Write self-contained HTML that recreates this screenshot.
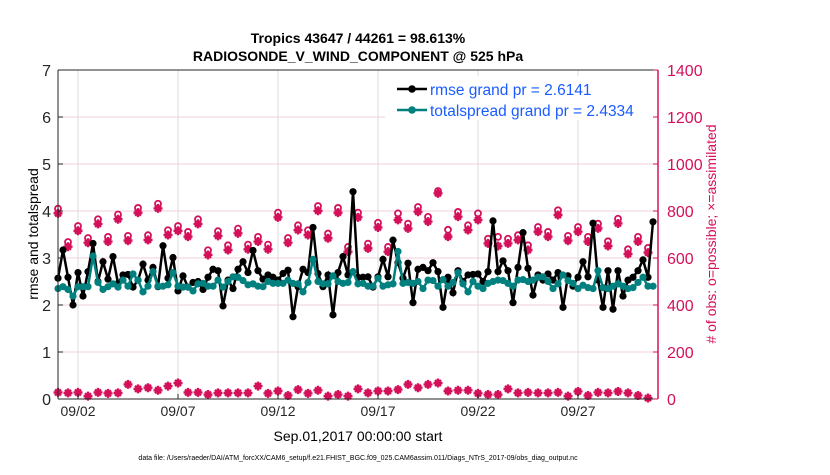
<!DOCTYPE html>
<html><head><meta charset="utf-8"><style>
body{margin:0;background:#fff;}
svg text{font-family:"Liberation Sans",Arial,sans-serif;}
</style></head><body>
<svg id="chart" width="830" height="470" viewBox="0 0 830 470" xmlns="http://www.w3.org/2000/svg">
<rect x="0" y="0" width="830" height="470" fill="#fff"/>
<text x="358" y="43" text-anchor="middle" font-size="14" font-weight="bold">Tropics 43647 / 44261 = 98.613%</text>
<text x="358" y="61" text-anchor="middle" font-size="14" font-weight="bold">RADIOSONDE_V_WIND_COMPONENT @ 525 hPa</text>
<g id="grid"></g>
<g id="obs"></g>
<g id="lines"></g>
<g id="axes"></g>
<g id="legend">
<rect x="385" y="76" width="268" height="44" fill="#fff"/>
<line x1="397" y1="89" x2="427" y2="89" stroke="#000" stroke-width="2.5"/>
<circle cx="412" cy="89" r="3.8" fill="#000"/>
<text x="430" y="95" font-size="15.5" fill="#1a5cff">rmse grand pr = 2.6141</text>
<line x1="397" y1="110" x2="427" y2="110" stroke="#00807f" stroke-width="2.5"/>
<circle cx="412" cy="110" r="3.8" fill="#00807f"/>
<text x="430" y="116" font-size="15.5" fill="#1a5cff">totalspread grand pr = 2.4334</text>
</g>
<text transform="translate(38,234) rotate(-90)" text-anchor="middle" font-size="14">rmse and totalspread</text>
<text transform="translate(716,234) rotate(-90)" text-anchor="middle" font-size="14" fill="#d5105a"># of obs: o=possible; ×=assimilated</text>
<text x="358" y="441" text-anchor="middle" font-size="14">Sep.01,2017 00:00:00 start</text>
<text x="358" y="460" text-anchor="middle" font-size="7">data file: /Users/raeder/DAI/ATM_forcXX/CAM6_setup/f.e21.FHIST_BGC.f09_025.CAM6assim.011/Diags_NTrS_2017-09/obs_diag_output.nc</text>
</svg>
<script>
const rmse=[2.57,3.17,2.59,2.00,2.69,2.19,2.71,3.31,2.50,2.92,2.55,3.03,2.46,2.64,2.65,2.38,2.53,2.87,2.53,2.80,2.39,3.26,2.57,3.01,2.30,2.62,2.38,2.48,2.50,2.33,2.59,2.76,2.73,1.98,2.53,2.35,2.76,2.92,2.69,3.16,2.73,2.55,2.64,2.59,2.53,2.67,2.74,1.75,2.39,2.76,2.69,3.65,2.67,2.39,2.64,1.79,2.69,3.03,2.64,4.41,2.59,
2.59,2.60,2.38,2.60,2.97,2.60,3.38,2.90,2.57,2.89,2.05,2.76,2.80,2.73,2.90,2.71,1.95,2.59,2.26,2.73,2.50,2.64,2.65,2.66,2.50,2.71,3.79,2.71,2.94,2.73,2.05,2.80,3.54,2.78,2.21,2.64,2.53,2.66,2.53,2.69,1.95,2.62,2.40,2.59,2.92,2.60,3.74,2.53,1.95,2.73,1.91,2.73,2.19,2.53,2.59,2.73,2.96,2.59,3.77];
const spread=[2.35,2.39,2.33,2.19,2.39,2.39,2.39,3.04,2.48,2.33,2.39,2.45,2.38,2.53,2.40,2.66,2.53,2.28,2.40,2.71,2.40,2.40,2.43,2.69,2.40,2.38,2.38,2.30,2.45,2.46,2.40,2.40,2.53,2.38,2.50,2.60,2.59,2.52,2.43,2.45,2.40,2.39,2.50,2.46,2.46,2.46,2.53,2.46,2.45,2.28,2.48,2.97,2.50,2.45,2.45,2.62,2.50,2.46,2.48,2.71,2.45,
2.46,2.40,2.40,2.57,2.40,2.43,2.45,3.14,2.46,2.48,2.46,2.50,2.35,2.53,2.52,2.40,2.54,2.40,2.48,2.69,2.45,2.28,2.50,2.40,2.35,2.46,2.50,2.53,2.52,2.46,2.40,2.53,2.54,2.50,2.53,2.59,2.60,2.50,2.35,2.45,2.64,2.52,2.46,2.35,2.42,2.37,2.35,2.73,2.37,2.35,2.40,2.45,2.40,2.35,2.37,2.48,2.59,2.40,2.40];
const assimilated=[790,648,716,665,745,670,765,674,793,677,811,698,716,691,745,613,694,634,705,637,670,637,773,665,719,698,801,684,793,627,773,
641,730,627,762,726,797,755,875,691,776,719,762,662,651,662,677,634,712,691,783,674,712,670,726,651,747,617,670,623];
const possible=[810,668,736,685,765,690,785,694,813,697,831,718,736,711,765,633,714,654,725,657,690,657,793,685,739,718,821,704,813,647,793,
661,750,647,790,746,817,775,885,720,796,739,790,682,690,682,697,654,732,711,803,694,732,690,746,671,767,637,690,643];
const lowCounts=[28,26,28,12,28,24,26,62,43,48,37,55,68,28,28,19,26,26,26,26,55,24,34,15,40,24,37,12,19,12,43,26,34,34,40,62,48,62,68,34,37,37,24,19,19,43,26,28,26,26,28,12,32,15,28,26,32,26,15,4];
const xTickLabels=["09/02","09/07","09/12","09/17","09/22","09/27"];
const xTickDays=[1,6,11,16,21,26];
const yTicks=[0,1,2,3,4,5,6,7];
const y2Ticks=[0,200,400,600,800,1000,1200,1400];

const L=58,R=658,T=70,B=399;
const xDay=d=>L+d*20;
const xPt=i=>xDay(i*0.25);
const yL=v=>B-(v/7)*(B-T);
const yR=v=>B-(v/1400)*(B-T);
const NS="http://www.w3.org/2000/svg";
function mk(tag,attrs,parent){const e=document.createElementNS(NS,tag);for(const k in attrs)e.setAttribute(k,attrs[k]);parent.appendChild(e);return e;}
const grid=document.getElementById('grid'),axes=document.getElementById('axes'),obs=document.getElementById('obs'),lines=document.getElementById('lines');

yTicks.forEach(v=>{if(v>0&&v<7){const g=mk('line',{x1:L,x2:R,y1:yL(v),y2:yL(v),stroke:'#f2d0dc','stroke-width':1},grid);

}});
xTickDays.forEach(d=>{const g=mk('line',{x1:xDay(d),x2:xDay(d),y1:T,y2:B,stroke:'#dcdcdc','stroke-width':1},grid);

});

const axL=mk('line',{x1:L,x2:L,y1:T,y2:B,stroke:'#262626','stroke-width':1},axes);


const axB=mk('line',{x1:L,x2:R,y1:B,y2:B,stroke:'#262626','stroke-width':1},axes);


const axT=mk('line',{x1:L,x2:R,y1:T,y2:T,stroke:'#262626','stroke-width':1},axes);


const axR=mk('line',{x1:R,x2:R,y1:T,y2:B,stroke:'#d5105a','stroke-width':1.5},axes);



yTicks.forEach(v=>{mk('line',{x1:L,x2:L+5,y1:yL(v),y2:yL(v),stroke:'#262626'},axes);
const t=mk('text',{x:L-7,y:yL(v)+6,'text-anchor':'end','font-size':16,fill:'#262626'},axes);t.textContent=v;

});
y2Ticks.forEach(v=>{mk('line',{x1:R-5,x2:R,y1:yR(v),y2:yR(v),stroke:'#d5105a'},axes);
const t=mk('text',{x:R+9,y:yR(v)+6,'font-size':16,fill:'#d5105a'},axes);t.textContent=v;

});
xTickDays.forEach((d,i)=>{mk('line',{x1:xDay(d),x2:xDay(d),y1:B-5,y2:B,stroke:'#262626'},axes);
const t=mk('text',{x:xDay(d),y:B+17,'text-anchor':'middle','font-size':14,fill:'#262626'},axes);t.textContent=xTickLabels[i];

});

const C='#d5105a';
function star(x,y){const g=mk('g',{},obs);


mk('path',{d:`M${x-4.5},${y}H${x+4.5}M${x},${y-4.5}V${y+4.5}M${x-3},${y-3}L${x+3},${y+3}M${x-3},${y+3}L${x+3},${y-3}`,stroke:C,'stroke-width':2.4},g);}
function ring(x,y){const c=mk('circle',{cx:x,cy:y,r:3,fill:'none',stroke:C,'stroke-width':1.8},obs);

}
possible.forEach((v,i)=>ring(xPt(i*2),yR(v)));
assimilated.forEach((v,i)=>star(xPt(i*2),yR(v)));
lowCounts.forEach((v,i)=>star(xPt(i*2),yR(v)));

function series(arr,color,name){
const p=mk('polyline',{points:arr.map((v,i)=>xPt(i)+','+yL(v)).join(' '),fill:'none',stroke:color,'stroke-width':2.5},lines);


arr.forEach((v,i)=>{const c=mk('circle',{cx:xPt(i),cy:yL(v),r:3.6,fill:color},lines);

});}
series(rmse,'#000','rmse');
series(spread,'#00807f','totalspread');
</script>
</body></html>
